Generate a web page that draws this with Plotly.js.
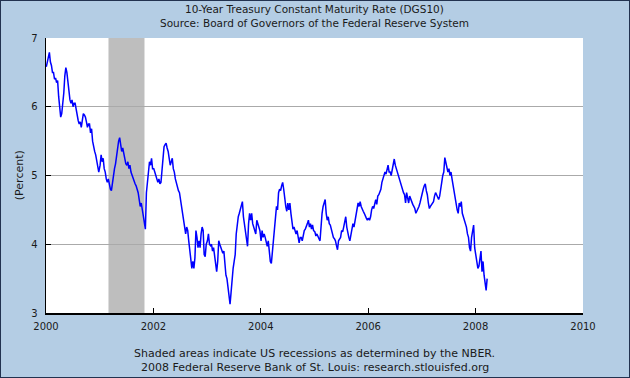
<!DOCTYPE html>
<html><head><meta charset="utf-8">
<script src="https://cdn.plot.ly/plotly-3.0.1.min.js"></script>
<style>html,body{margin:0;padding:0;background:#b4cde4}#chart{width:628px;height:376px;border:1px solid #22324f}</style>
</head><body><div id="chart"></div>
<script>
// Weekly readings (percent), one array per year
const y2000=[6.58,6.65,6.75,6.79,6.65,6.6,6.5,6.5,6.4,6.42,6.35,6.38,6.15,6.0,5.85,5.9,6.03,6.2,6.45,6.57,6.5,6.35,6.2,6.1,6.05,6.1,6.0,6.05,6.05,5.95,5.85,5.8,5.75,5.78,5.7,5.8,5.9,5.88,5.85,5.78,5.7,5.75,5.75,5.62,5.68,5.5,5.4,5.35,5.3,5.2,5.1,5.05];
const y2001=[5.15,5.3,5.2,5.25,5.1,5.05,4.95,4.9,4.95,4.85,4.8,4.78,4.9,5.0,5.1,5.17,5.3,5.4,5.5,5.55,5.45,5.35,5.4,5.3,5.2,5.17,5.15,5.2,5.1,5.15,5.05,5.0,4.95,4.92,4.88,4.85,4.8,4.75,4.65,4.55,4.6,4.5,4.4,4.3,4.22,4.75,4.9,5.0,5.2,5.15,5.25,5.1];
const y2002=[5.1,5.05,5.0,4.95,4.9,4.95,4.88,4.9,5.1,5.35,5.42,5.45,5.47,5.4,5.35,5.25,5.15,5.2,5.25,5.1,5.05,4.95,4.88,4.85,4.78,4.75,4.65,4.55,4.5,4.4,4.3,4.15,4.25,4.2,4.05,3.9,3.7,3.65,3.75,3.65,3.8,4.2,4.1,3.95,4.05,3.95,4.15,4.25,4.2,3.85,3.82,4.0];
const y2003=[4.05,4.15,4.0,3.98,4.0,3.9,3.95,3.8,3.65,3.6,3.75,4.05,4.0,3.95,3.92,3.87,3.9,3.7,3.55,3.5,3.38,3.27,3.13,3.3,3.5,3.65,3.75,3.85,4.15,4.3,4.4,4.45,4.5,4.55,4.62,4.4,4.3,4.2,4.05,3.97,4.3,4.45,4.35,4.45,4.3,4.25,4.2,4.15,4.35,4.3,4.25,4.2];
const y2004=[4.05,4.2,4.1,4.15,4.1,4.05,3.97,4.05,3.85,3.75,3.72,3.9,4.05,4.2,4.45,4.55,4.5,4.75,4.8,4.78,4.85,4.9,4.8,4.65,4.55,4.48,4.6,4.5,4.6,4.45,4.28,4.22,4.25,4.2,4.15,4.2,4.1,4.02,4.1,4.1,4.05,4.15,4.2,4.22,4.25,4.3,4.35,4.25,4.3,4.22,4.28,4.2];
const y2005=[4.18,4.12,4.15,4.1,4.08,4.05,4.3,4.45,4.55,4.6,4.65,4.45,4.35,4.4,4.3,4.28,4.22,4.15,4.1,4.08,4.05,3.98,3.92,4.05,4.08,4.1,4.2,4.18,4.25,4.35,4.4,4.25,4.15,4.1,4.05,4.12,4.22,4.3,4.25,4.35,4.42,4.5,4.6,4.55,4.62,4.55,4.5,4.48,4.45,4.4,4.38,4.35];
const y2006=[4.38,4.35,4.4,4.5,4.55,4.52,4.6,4.65,4.58,4.7,4.72,4.75,4.8,4.9,4.95,5.0,5.05,5.02,5.1,5.15,5.05,5.05,5.0,5.1,5.2,5.24,5.15,5.1,5.05,5.0,4.95,4.9,4.82,4.78,4.75,4.72,4.6,4.75,4.65,4.6,4.7,4.65,4.6,4.58,4.55,4.52,4.45,4.48,4.5,4.55,4.6,4.68];
const y2007=[4.75,4.8,4.85,4.88,4.78,4.72,4.6,4.52,4.55,4.58,4.6,4.62,4.7,4.75,4.72,4.68,4.65,4.7,4.85,4.9,5.0,5.05,5.26,5.15,5.12,5.05,5.1,5.0,5.05,4.95,4.85,4.75,4.7,4.6,4.5,4.45,4.6,4.55,4.62,4.45,4.4,4.35,4.3,4.25,4.15,4.1,3.95,3.9,4.1,4.2,4.28,3.95];
const y2008=[3.85,3.72,3.65,3.68,3.8,3.9,3.6,3.75,3.55,3.4,3.33,3.5];

const seriesYears=[2000,2001,2002,2003,2004,2005,2006,2007,2008];
const seriesByYear=[y2000,y2001,y2002,y2003,y2004,y2005,y2006,y2007,y2008];
const recessionStart='2001-03-01';
const recessionEnd='2001-11-01';
const xTickYears=[2000,2002,2004,2006,2008,2010];
const yTickVals=[3,4,5,6,7];
const titleLines=['10-Year Treasury Constant Maturity Rate (DGS10)','Source: Board of Governors of the Federal Reserve System'];
const footerLines=['Shaded areas indicate US recessions as determined by the NBER.','2008 Federal Reserve Bank of St. Louis: research.stlouisfed.org'];

const dates=[], vals=[];
seriesByYear.forEach((arr,i)=>{
  arr.forEach((v,k)=>{
    const d=new Date(Date.UTC(seriesYears[i],0,3+7*k));
    dates.push(d.toISOString().slice(0,10));
    vals.push(v);
  });
});

const font='DejaVu Sans, sans-serif';
const txt='#1a1a1a';
const trace={x:dates,y:vals,type:'scatter',mode:'lines',line:{color:'#0000ff',width:1.5},hoverinfo:'skip'};
const layout={
  width:628,height:376,
  margin:{l:45,r:46,t:37,b:64},
  paper_bgcolor:'#b4cde4',plot_bgcolor:'#ffffff',
  showlegend:false,
  font:{family:font,size:10,color:txt},
  xaxis:{type:'date',range:['2000-01-01','2010-01-01'],tickmode:'array',
    tickvals:xTickYears.map(y=>y+'-01-01'),ticktext:xTickYears.map(String),
    ticks:'inside',ticklen:5,tickcolor:'#000',showline:true,linecolor:'#000',linewidth:1.5,
    showgrid:false,zeroline:false,tickfont:{family:font,size:10,color:txt},ticklabelstandoff:3,fixedrange:true},
  yaxis:{range:[3,7],tickmode:'array',tickvals:yTickVals,ticktext:yTickVals.map(String),
    ticks:'inside',ticklen:5,tickcolor:'#000',showline:true,linecolor:'#000',linewidth:1.5,
    showgrid:true,gridcolor:'#aaaaaa',gridwidth:1.3,zeroline:false,
    tickfont:{family:font,size:10,color:txt},ticklabelstandoff:5,fixedrange:true},
  shapes:[{type:'rect',xref:'x',yref:'paper',x0:recessionStart,x1:recessionEnd,y0:0,y1:1,
    fillcolor:'#bebebe',line:{width:0},layer:'below'}],
  annotations:[
    {text:titleLines[0],xref:'paper',yref:'paper',x:0.5,y:1.104,xanchor:'center',yanchor:'middle',showarrow:false,font:{family:font,size:10.5,color:txt}},
    {text:titleLines[1],xref:'paper',yref:'paper',x:0.5,y:1.0535,xanchor:'center',yanchor:'middle',showarrow:false,font:{family:font,size:10.5,color:txt}},
    {text:footerLines[0],xref:'paper',yref:'paper',x:0.5,y:-0.1455,xanchor:'center',yanchor:'middle',showarrow:false,font:{family:font,size:11,color:txt}},
    {text:footerLines[1],xref:'paper',yref:'paper',x:0.5,y:-0.199,xanchor:'center',yanchor:'middle',showarrow:false,font:{family:font,size:11,color:txt}},
    {text:'(Percent)',xref:'paper',yref:'paper',x:-0.049,y:0.5,xanchor:'center',yanchor:'middle',textangle:-90,showarrow:false,font:{family:font,size:11,color:txt}}
  ]
};
Plotly.newPlot('chart',[trace],layout,{displayModeBar:false,staticPlot:true});
</script>
</body></html>
